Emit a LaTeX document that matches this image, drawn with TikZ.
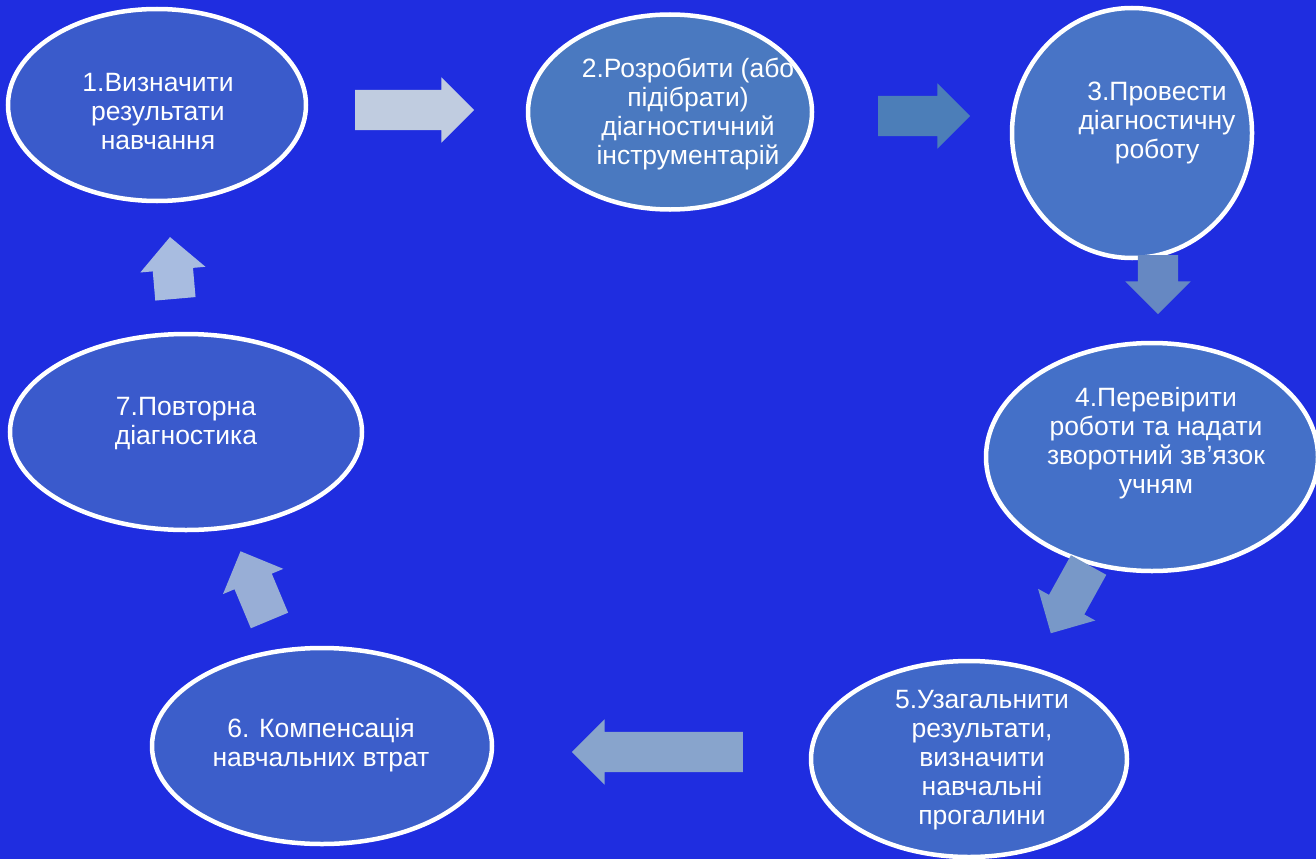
\documentclass[tikz,border=0pt]{standalone}
\usepackage{fontspec}
\setmainfont{Liberation Sans}
\usetikzlibrary{shapes.geometric,shapes.arrows}
\definecolor{bgblue}{HTML}{1F2DE0}
\definecolor{stageA}{HTML}{3A5BCB}
\definecolor{stageB}{HTML}{4A79C0}
\definecolor{stageC}{HTML}{4874C6}
\definecolor{stageD}{HTML}{4470C8}
\definecolor{stageE}{HTML}{4068C8}
\definecolor{stageF}{HTML}{3C5ECA}
\definecolor{stageG}{HTML}{3A5ACC}
\definecolor{arrA}{HTML}{C0CCE0}
\definecolor{arrB}{HTML}{4C7EB8}
\definecolor{arrC}{HTML}{6688C2}
\definecolor{arrD}{HTML}{7898C8}
\definecolor{arrE}{HTML}{88A4CC}
\definecolor{arrF}{HTML}{98AED6}
\definecolor{arrG}{HTML}{A8BCE0}
\tikzset{stage/.style={ellipse, draw=white, line width=4.5pt, inner sep=0pt, fill=#1},
    stagetext/.style={text=white, align=center, font=\fontsize{26.5}{29}\selectfont},
    blockarrow/.style={single arrow, draw=none, fill=#1, inner xsep=0pt,
        inner ysep=20pt, single arrow head extend=12.5pt}}

\begin{document}
\begin{tikzpicture}[x=1pt,y=-1pt]
        \fill[bgblue] (0,0) rectangle (1316,859);
        \useasboundingbox (0,0) rectangle (1316,859);

        \node[stage=stageA, minimum width=298pt, minimum height=192pt] (s1) at (157,105) {};
        \node[stage=stageB, minimum width=284pt, minimum height=195pt] (s2) at (670,112) {};
        \node[stage=stageC, minimum width=240pt, minimum height=250pt] (s3) at (1132,133) {};
        \node[stage=stageD, minimum width=332pt, minimum height=228pt] (s4) at (1152,457) {};
        \node[stage=stageE, minimum width=316pt, minimum height=196pt] (s5) at (969,759) {};
        \node[stage=stageF, minimum width=340pt, minimum height=196pt] (s6) at (322,746) {};
        \node[stage=stageG, minimum width=352pt, minimum height=196pt] (s7) at (186,432) {};

        \node[stagetext] (t1) at (158,112) {1.Визначити\\результати\\навчання};
        \node[stagetext] (t2) at (688,114) {2.Розробити (або\\підібрати)\\діагностичний\\інструментарій};
        \node[stagetext] (t3) at (1157,123) {3.Провести\\діагностичну\\роботу};
        \node[stagetext] (t4) at (1156,443) {4.Перевірити\\роботи та надати\\зворотний зв’язок\\учням};
        \node[stagetext] (t5) at (982,760) {5.Узагальнити\\результати,\\визначити\\навчальні\\прогалини};
        \node[stagetext] (t6) at (321,745) {6. Компенсація\\навчальних втрат};
        \node[stagetext] (t7) at (186,424) {7.Повторна\\діагностика};

        \node[blockarrow=arrA, minimum height=119pt] (a12) at (404.5,110) {};
        \node[blockarrow=arrB, minimum height=92pt] (a23) at (914,116) {};
        \node[blockarrow=arrC, minimum height=59pt, rotate=-90] (a34) at (1158,274.5) {};
        \node[blockarrow=arrD, minimum height=78pt, rotate=-119] (a45) at (1074.6,590.3) {};
        \node[blockarrow=arrE, minimum height=171pt, rotate=180] (a56) at (667.5,752) {};
        \node[blockarrow=arrF, minimum height=75pt, rotate=112.7] (a67) at (258.9,595.2) {};
        \node[blockarrow=arrG, minimum height=62pt, rotate=95] (a71) at (173.6,278) {};
\end{tikzpicture}
\end{document}
